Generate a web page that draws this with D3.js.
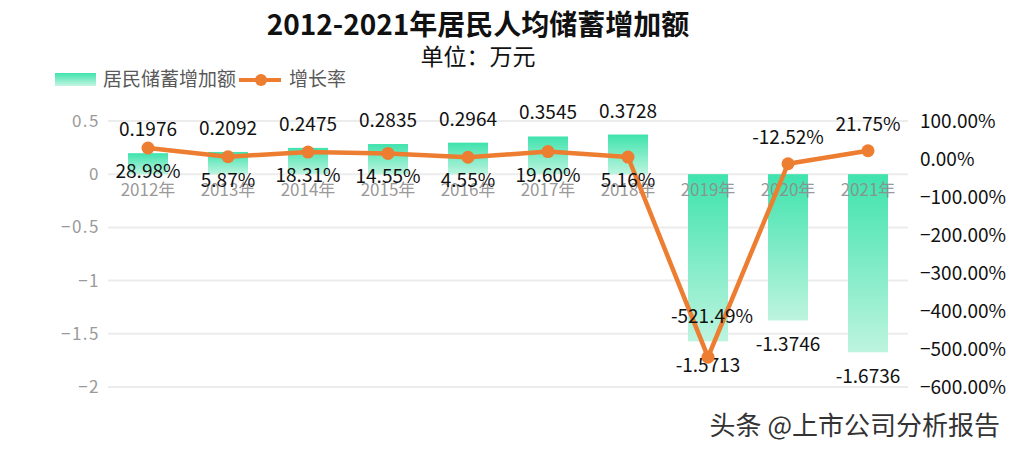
<!DOCTYPE html>
<html>
<head>
<meta charset="utf-8">
<script src="https://cdn.jsdelivr.net/npm/d3@7"></script>
<style>
    body { margin: 0; background: #fff; }
    svg { font-family: "Noto Sans CJK SC", "Noto Sans", sans-serif; }
</style>
</head>
<body>
<div id="chart"></div>
<script>
// chart data
const years = ["2012年", "2013年", "2014年", "2015年", "2016年", "2017年", "2018年", "2019年", "2020年", "2021年"];
const savings = [0.1976, 0.2092, 0.2475, 0.2835, 0.2964, 0.3545, 0.3728, -1.5713, -1.3746, -1.6736];
const growth = [28.98, 5.87, 18.31, 14.55, 4.55, 19.60, 5.16, -521.49, -12.52, 21.75];
const leftTicks = [0.5, 0, -0.5, -1, -1.5, -2];
const rightTicks = [100, 0, -100, -200, -300, -400, -500, -600];

const WIDTH = 1014, HEIGHT = 451;
const margin = { LEFT: 108, RIGHT: 106, TOP: 121, BOTTOM: 64 };
const width = WIDTH - margin.LEFT - margin.RIGHT;
const height = HEIGHT - margin.TOP - margin.BOTTOM;

const svg = d3.select("#chart").append("svg")
    .attr("width", WIDTH)
    .attr("height", HEIGHT);

const defs = svg.append("defs");
const grad = defs.append("linearGradient")
    .attr("id", "barGrad")
    .attr("x1", 0).attr("y1", 0).attr("x2", 0).attr("y2", 1);
grad.append("stop").attr("offset", "0%").attr("stop-color", "#3fe3ad");
grad.append("stop").attr("offset", "100%").attr("stop-color", "#bdf4df");

const legGrad = defs.append("linearGradient")
    .attr("id", "legGrad")
    .attr("x1", 0).attr("y1", 0).attr("x2", 0).attr("y2", 1);
legGrad.append("stop").attr("offset", "0%").attr("stop-color", "#3fe3ad");
legGrad.append("stop").attr("offset", "100%").attr("stop-color", "#c4f5e2");

// title
svg.append("text")
    .attr("x", 478).attr("y", 35)
    .attr("text-anchor", "middle")
    .attr("font-size", "28px")
    .attr("font-weight", "bold")
    .attr("fill", "#111")
    .text("2012-2021年居民人均储蓄增加额");

svg.append("text")
    .attr("x", 478).attr("y", 65)
    .attr("text-anchor", "middle")
    .attr("font-size", "23px")
    .attr("fill", "#111")
    .text("单位：万元");

// legend
const legend = svg.append("g");
legend.append("rect")
    .attr("x", 55).attr("y", 73)
    .attr("width", 41).attr("height", 13)
    .attr("fill", "url(#legGrad)");
legend.append("text")
    .attr("x", 103).attr("y", 86)
    .attr("font-size", "19px")
    .attr("fill", "#595959")
    .text("居民储蓄增加额");
legend.append("line")
    .attr("x1", 239).attr("x2", 281)
    .attr("y1", 80).attr("y2", 80)
    .attr("stroke", "#ed7d31")
    .attr("stroke-width", 4);
legend.append("circle")
    .attr("cx", 261).attr("cy", 80).attr("r", 6)
    .attr("fill", "#ed7d31");
legend.append("text")
    .attr("x", 289).attr("y", 86)
    .attr("font-size", "19px")
    .attr("fill", "#595959")
    .text("增长率");

const g = svg.append("g")
    .attr("transform", `translate(${margin.LEFT}, ${margin.TOP})`);

const x = d3.scaleBand()
    .domain(years)
    .range([0, width])
    .paddingInner(0.5)
    .paddingOuter(0.25);

const y = d3.scaleLinear()
    .domain([-2, 0.5])
    .range([height, 0]);

const y2 = d3.scaleLinear()
    .domain([-600, 100])
    .range([height, 0]);

// grid lines
g.selectAll(".grid")
    .data(leftTicks)
    .enter().append("line")
    .attr("class", "grid")
    .attr("x1", 0).attr("x2", width)
    .attr("y1", d => y(d)).attr("y2", d => y(d))
    .attr("stroke", "#ececec")
    .attr("stroke-width", 2);

// left axis
const yAxisCall = d3.axisLeft(y)
    .tickValues(leftTicks)
    .tickSize(0)
    .tickPadding(8)
    .tickFormat(d => d === 0 ? "0" : d3.format("")(d).replace("-", "−"));
const yAxisGroup = g.append("g").call(yAxisCall);
yAxisGroup.select(".domain").remove();
yAxisGroup.selectAll("text")
    .attr("font-size", "17px")
    .attr("font-family", "\"Noto Sans CJK SC\", sans-serif")
    .attr("letter-spacing", "1.5px")
    .attr("fill", "#9a9a9a");

// right axis
const y2AxisCall = d3.axisRight(y2)
    .tickValues(rightTicks)
    .tickSize(0)
    .tickPadding(12)
    .tickFormat(d => d3.format(".2f")(d) + "%");
const y2AxisGroup = g.append("g")
    .attr("transform", `translate(${width}, 0)`)
    .call(y2AxisCall);
y2AxisGroup.select(".domain").remove();
y2AxisGroup.selectAll("text")
    .attr("font-size", "19px")
    .attr("font-family", "\"Noto Sans CJK SC\", sans-serif")
    .attr("fill", "#111");

// bars
g.selectAll(".bar")
    .data(savings)
    .enter().append("rect")
    .attr("class", "bar")
    .attr("x", (d, i) => x(years[i]))
    .attr("y", d => d >= 0 ? y(d) : y(0))
    .attr("width", x.bandwidth())
    .attr("height", d => Math.abs(y(d) - y(0)))
    .attr("fill", "url(#barGrad)");

// x axis labels (sit on the zero line)
const xAxisCall = d3.axisBottom(x).tickSize(0).tickPadding(10);
const xAxisGroup = g.append("g")
    .attr("transform", `translate(0, ${y(0)})`)
    .call(xAxisCall);
xAxisGroup.select(".domain").remove();
xAxisGroup.selectAll("text")
    .attr("font-size", "17px")
    .attr("font-family", "\"Noto Sans CJK SC\", sans-serif")
    .attr("fill", "#8c8c8c")
    .attr("fill-opacity", 0.9);

// bar value labels
g.selectAll(".bar-label")
    .data(savings)
    .enter().append("text")
    .attr("class", "bar-label")
    .attr("x", (d, i) => x(years[i]) + x.bandwidth() / 2)
    .attr("y", d => d >= 0 ? y(d) - 17 : y(d) + 31)
    .attr("text-anchor", "middle")
    .attr("font-size", "19px")
    .attr("fill", "#111")
    .text(d => d.toFixed(4));

// growth line
const line = d3.line()
    .x((d, i) => x(years[i]) + x.bandwidth() / 2)
    .y(d => y2(d));

g.append("path")
    .datum(growth)
    .attr("d", line)
    .attr("fill", "none")
    .attr("stroke", "#ed7d31")
    .attr("stroke-width", 4.5)
    .attr("stroke-linejoin", "round");

g.selectAll(".dot")
    .data(growth)
    .enter().append("circle")
    .attr("class", "dot")
    .attr("cx", (d, i) => x(years[i]) + x.bandwidth() / 2)
    .attr("cy", d => y2(d))
    .attr("r", 6.5)
    .attr("fill", "#ed7d31");

// growth labels: below for early years, above for the last three
g.selectAll(".line-label")
    .data(growth)
    .enter().append("text")
    .attr("class", "line-label")
    .attr("x", (d, i) => x(years[i]) + x.bandwidth() / 2 + (i === 7 ? 4 : 0))
    .attr("y", (d, i) => i < 7 ? y2(d) + 30 : y2(d) - (i === 7 ? 34 : 20))
    .attr("text-anchor", "middle")
    .attr("font-size", "19px")
    .attr("fill", "#111")
    .text(d => d.toFixed(2) + "%");

// watermark
svg.append("text")
    .attr("x", 1000).attr("y", 435)
    .attr("text-anchor", "end")
    .attr("font-size", "26px")
    .attr("fill", "#333")
    .attr("stroke", "#fff")
    .attr("stroke-width", 1)
    .attr("paint-order", "stroke")
    .text("头条 @上市公司分析报告");
</script>
</body>
</html>
